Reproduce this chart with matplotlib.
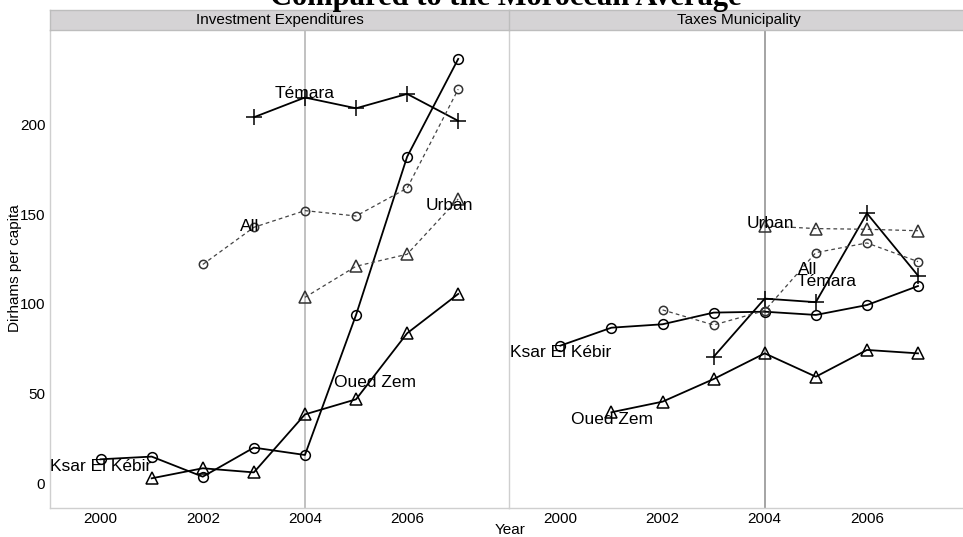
import matplotlib
matplotlib.use("Agg")
import matplotlib.pyplot as plt

plt.rcParams['font.family'] = ['Liberation Sans', 'DejaVu Sans']

# ---------------- data ----------------
panels = ["Investment Expenditures", "Taxes Municipality"]

# Investment Expenditures
inv_ksar_years = [2000, 2001, 2002, 2003, 2004, 2005, 2006, 2007]
inv_ksar_vals = [13.5, 15.0, 3.8, 20.0, 15.9, 93.9, 182.0, 236.5]
inv_oued_years = [2001, 2002, 2003, 2004, 2005, 2006, 2007]
inv_oued_vals = [2.9, 8.5, 6.2, 38.5, 46.9, 83.7, 105.6]
inv_temara_years = [2003, 2004, 2005, 2006, 2007]
inv_temara_vals = [204.0, 215.0, 209.0, 217.0, 202.0]
inv_all_years = [2002, 2003, 2004, 2005, 2006, 2007]
inv_all_vals = [122.0, 142.7, 152.0, 149.0, 164.5, 219.6]
inv_urban_years = [2004, 2005, 2006, 2007]
inv_urban_vals = [103.7, 121.0, 127.7, 158.5]

# Taxes Municipality
tax_ksar_years = [2000, 2001, 2002, 2003, 2004, 2005, 2006, 2007]
tax_ksar_vals = [76.8, 86.8, 88.7, 95.2, 95.7, 93.9, 99.4, 110.0]
tax_oued_years = [2001, 2002, 2003, 2004, 2005, 2006, 2007]
tax_oued_vals = [39.7, 45.6, 58.2, 72.5, 59.5, 74.4, 72.5]
tax_temara_years = [2003, 2004, 2005, 2006, 2007]
tax_temara_vals = [70.6, 103.0, 101.0, 150.5, 115.8]
tax_all_years = [2002, 2003, 2004, 2005, 2006, 2007]
tax_all_vals = [96.7, 88.3, 96.3, 128.6, 134.0, 123.6]
tax_urban_years = [2004, 2005, 2006, 2007]
tax_urban_vals = [143.5, 142.0, 141.6, 140.8]

x_ticks = [2000, 2002, 2004, 2006]
y_ticks = [0, 50, 100, 150, 200]
ref_year = 2004

# label anchor positions (data coords) per panel
inv_labels = [("Témara", 2004.0, 217.4), ("All", 2002.92, 142.9),
              ("Urban", 2006.83, 154.6), ("Ksar El Kébir", 2000.0, 9.7),
              ("Oued Zem", 2005.38, 56.2)]
tax_labels = [("Urban", 2004.11, 145.0), ("All", 2004.84, 119.3),
              ("Témara", 2005.21, 112.4), ("Ksar El Kébir", 2000.0, 72.9),
              ("Oued Zem", 2001.02, 35.8)]

# ---------------- figure ----------------
fig = plt.figure(figsize=(9.63, 5.37), dpi=100)

W, H = 963.0, 537.0
ax_left_px = [49.5, 509.3]
ax_w_px = 459.8
ax_top_px, ax_bot_px = 30.0, 508.3
strip_top_px = 10.0

solid_kw = dict(color='black', lw=1.3, mfc='none', mec='black')
dash_kw = dict(color='#444444', lw=0.9, ls=(0, (3, 2.5)), mfc='none', mec='#333333')

series_sets = [
    [(inv_ksar_years, inv_ksar_vals, 'o', 7, solid_kw),
     (inv_oued_years, inv_oued_vals, '^', 9, solid_kw),
     (inv_temara_years, inv_temara_vals, '+', 11, solid_kw),
     (inv_all_years, inv_all_vals, 'o', 6, dash_kw),
     (inv_urban_years, inv_urban_vals, '^', 8.5, dash_kw)],
    [(tax_ksar_years, tax_ksar_vals, 'o', 7, solid_kw),
     (tax_oued_years, tax_oued_vals, '^', 9, solid_kw),
     (tax_temara_years, tax_temara_vals, '+', 11, solid_kw),
     (tax_all_years, tax_all_vals, 'o', 6, dash_kw),
     (tax_urban_years, tax_urban_vals, '^', 8.5, dash_kw)],
]
label_sets = [inv_labels, tax_labels]
vline_colors = ['#b0b0b0', '#8c8c8c']

for i, name in enumerate(panels):
    l = ax_left_px[i] / W
    b = 1 - ax_bot_px / H
    w = ax_w_px / W
    h = (ax_bot_px - ax_top_px) / H
    ax = fig.add_axes([l, b, w, h])
    ax.set_xlim(1999.0, 2008.0)
    ax.set_ylim(-13.8, 252.6)
    ax.axvline(ref_year, color=vline_colors[i], lw=1.1, zorder=1)
    for xs, ys, mk, ms, kw in series_sets[i]:
        ax.plot(xs, ys, marker=mk, ms=ms, mew=1.1, zorder=3, **kw)
    for txt, tx, ty in label_sets[i]:
        ax.text(tx, ty, txt, ha='center', va='center', fontsize=12.5, zorder=4)
    ax.set_xticks(x_ticks)
    ax.set_xticklabels([str(t) for t in x_ticks], fontsize=11)
    ax.set_yticks(y_ticks)
    if i == 0:
        ax.set_yticklabels([str(t) for t in y_ticks], fontsize=11)
    else:
        ax.set_yticklabels([])
    ax.tick_params(length=0, pad=3)
    for s in ['top', 'right']:
        ax.spines[s].set_visible(False)
    for s in ['left', 'bottom']:
        ax.spines[s].set_color('#cfcfcf')
        ax.spines[s].set_linewidth(1.0)

    # strip
    sax = fig.add_axes([l, 1 - ax_top_px / H, w, (ax_top_px - strip_top_px) / H])
    sax.set_facecolor('#d5d3d5')
    sax.set_xticks([])
    sax.set_yticks([])
    for s in sax.spines.values():
        s.set_color('#bdbdbd')
        s.set_linewidth(1.0)
    sax.spines['right'].set_visible(False)
    sax.text(0.5, 0.5, name, ha='center', va='center', fontsize=11,
             transform=sax.transAxes)

fig.text(15 / W, 1 - 268 / H, "Dirhams per capita", rotation=90,
         ha='center', va='center', fontsize=11)
fig.text(510 / W, 1 - 530 / H, "Year", ha='center', va='center', fontsize=11)
fig.text(506 / W, 1 - 5 / H, "Compared to the Moroccan Average",
         ha='center', va='baseline', fontsize=22, fontweight='bold',
         family=['Liberation Serif', 'DejaVu Serif'])

fig.savefig("out.png", dpi=100)
